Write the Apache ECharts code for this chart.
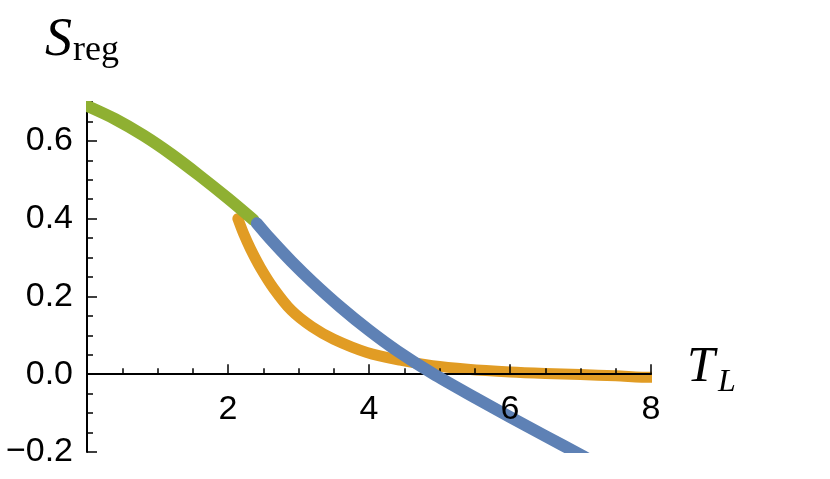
<!DOCTYPE html>
<html>
<head>
<meta charset="utf-8">
<script src="https://cdn.jsdelivr.net/npm/echarts@6/dist/echarts.min.js"></script>
<style>
  html, body { margin: 0; padding: 0; background: #fff; }
  #chart { width: 830px; height: 479px; }
</style>
</head>
<body>
<div id="chart"></div>
<script>
// S_reg against T_L, three branches
const tGreen = [0, 0.4, 0.8, 1.2, 1.6, 2.0, 2.36];
const sGreen = [0.69, 0.656, 0.614, 0.565, 0.510, 0.452, 0.397];

const tOrange = [2.14, 2.22, 2.32, 2.46, 2.65, 2.9, 3.19, 3.5, 3.97, 4.44, 4.9, 5.4, 6.0, 6.5, 7.0, 7.5, 8.0, 8.1];
const sOrange = [0.40, 0.362, 0.322, 0.274, 0.220, 0.164, 0.122, 0.09, 0.056, 0.036, 0.022, 0.013, 0.006, 0.002, -0.001, -0.004, -0.008, -0.008];

const tBlue = [2.41, 2.6, 2.9, 3.2, 3.6, 4.0, 4.4, 4.9, 5.5, 6.0, 6.5, 7.0, 7.1];
const sBlue = [0.388, 0.348, 0.29, 0.237, 0.172, 0.113, 0.06, 0.002, -0.06, -0.11, -0.159, -0.207, -0.217];

const xLabels = [2, 4, 6, 8];
const yMajor = [-0.2, 0, 0.2, 0.4, 0.6];

const pairs = (xs, ys) => xs.map((x, i) => [x, ys[i]]);

const labelFont = { fontFamily: 'Liberation Sans', fontSize: 34, color: '#000' };
const axisColor = '#000';
const serif = '"Liberation Serif"';

const chart = echarts.init(document.getElementById('chart'));

function lineSeries(name, xs, ys, color, width, z) {
    return {
        name: name,
        type: 'line',
        z: z,
        data: pairs(xs, ys),
        smooth: 0.3,
        showSymbol: false,
        clip: true,
        lineStyle: { color: color, width: width, cap: 'round', join: 'round' }
    };
}

function label(text, x, y, font) {
    return { type: 'text', z: 10, style: { x: x, y: y, text: text, font: font, fill: '#000', textAlign: 'left', textVerticalAlign: 'middle', align: 'left', verticalAlign: 'middle' } };
}

function mask(x, y, w, h) {
    return { type: 'rect', z: 5, shape: { x: x, y: y, width: w, height: h }, style: { fill: '#fff' } };
}

const option = {
    animation: false,
    grid: { left: 87, right: 179, top: 102, bottom: 27, containLabel: false, outerBoundsMode: 'none' },
    xAxis: [
        {
            // axis line and ticks, drawn between the orange and blue branches
            type: 'value',
            position: 'bottom',
            min: 0,
            max: 8,
            interval: 2,
            z: 2,
            axisLine: { onZero: true, lineStyle: { color: axisColor, width: 2 } },
            axisTick: { inside: true, length: 10, lineStyle: { color: axisColor, width: 1.5 } },
            minorTick: { show: true, splitNumber: 4, length: 6, lineStyle: { color: axisColor, width: 1.5 } },
            splitLine: { show: false },
            minorSplitLine: { show: false },
            axisLabel: { show: false }
        },
        {
            // tick labels, on top of everything
            type: 'value',
            position: 'bottom',
            min: 0,
            max: 8,
            interval: 2,
            z: 6,
            axisLine: { show: false, onZero: true },
            axisTick: { show: false },
            splitLine: { show: false },
            axisLabel: Object.assign({
                margin: -59,
                customValues: xLabels
            }, labelFont)
        }
    ],
    yAxis: [
        {
            // minor ticks every 0.05
            type: 'value',
            position: 'left',
            min: -0.2,
            max: 0.7,
            interval: 0.05,
            z: 2,
            axisLine: { show: true, onZero: false, lineStyle: { color: axisColor, width: 2 } },
            axisTick: { inside: true, length: 6, lineStyle: { color: axisColor, width: 1.5 } },
            axisLabel: { show: false },
            splitLine: { show: false }
        },
        {
            // major ticks + labels
            type: 'value',
            position: 'left',
            offset: 0,
            min: -0.2,
            max: 0.7,
            interval: 0.2,
            z: 2,
            axisLine: { show: false, onZero: false },
            axisTick: { inside: true, length: 10, customValues: yMajor, lineStyle: { color: axisColor, width: 1.5 } },
            splitLine: { show: false },
            axisLabel: Object.assign({
                margin: 14,
                customValues: yMajor,
                formatter: v => v.toFixed(1).replace('-', '\u2212')
            }, labelFont)
        }
    ],
    graphic: [
        label('S', 45, 41, 'italic 54px ' + serif),
        label('reg', 73, 51, '36px ' + serif),
        label('T', 687, 368, 'italic 50px ' + serif),
        label('L', 718, 383, 'italic 32px ' + serif),
        // trim the thick strokes to the plot frame, as the original does
        mask(74, 92, 12, 28),
        mask(80, 88, 40, 13),
        mask(500, 453, 200, 26),
        mask(652, 355, 30, 35)
    ],
    series: [
        lineSeries('orange', tOrange, sOrange, '#E19C24', 11, 1),
        lineSeries('green', tGreen, sGreen, '#8FB032', 12, 3),
        lineSeries('blue', tBlue, sBlue, '#5E81B5', 12, 4)
    ]
};

chart.setOption(option);
</script>
</body>
</html>
